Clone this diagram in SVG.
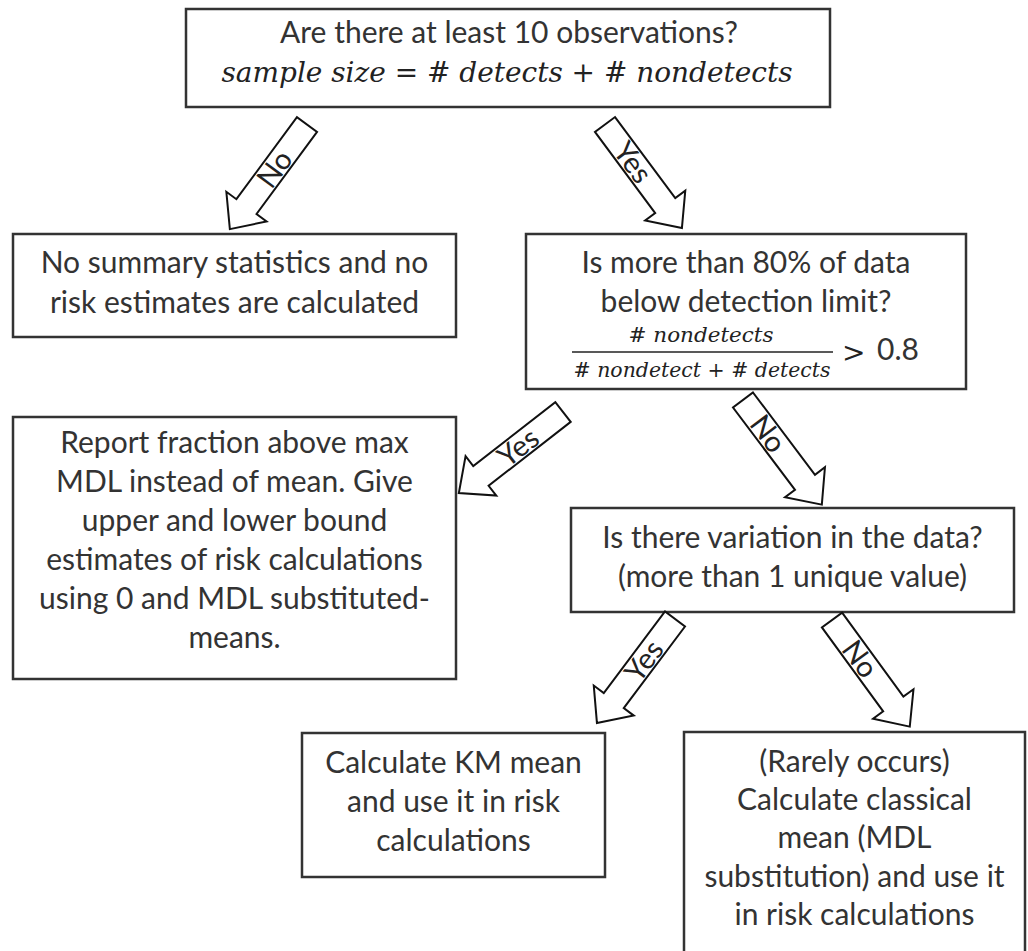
<svg xmlns="http://www.w3.org/2000/svg" width="1028" height="951" viewBox="0 0 1028 951">
<style>
.box{fill:#fff;stroke:#333;stroke-width:2.5}
.t{font-family:Lato,"Liberation Sans",sans-serif;font-size:30px;fill:#333;text-anchor:middle}
.m{font-family:"DejaVu Serif","Liberation Serif",serif;font-style:italic;fill:#222}
.u{font-style:normal}
.arr{fill:#fff;stroke:#111;stroke-width:2;stroke-linejoin:miter}
.lab{font-family:Lato,"Liberation Sans",sans-serif;font-size:29px;fill:#222;text-anchor:middle}
</style>
<rect width="1028" height="951" fill="#fff"/>
<g id="q1">
<rect class="box" x="186" y="9" width="644" height="98"/>
<text class="t" x="509" y="43">Are there at least 10 observations?</text>
<text class="m" x="507" y="82" font-size="28" text-anchor="middle" textLength="571" lengthAdjust="spacingAndGlyphs">sample size <tspan class="u">=</tspan> <tspan class="u">#</tspan> detects <tspan class="u">+</tspan> <tspan class="u">#</tspan> nondetects</text>
</g>
<g id="none">
<rect class="box" x="13" y="234" width="443" height="103"/>
<text class="t" x="234.5" y="273">No summary statistics and no</text>
<text class="t" x="234.5" y="313">risk estimates are calculated</text>
</g>
<g id="q2">
<rect class="box" x="526" y="234" width="440" height="155"/>
<text class="t" x="746" y="273">Is more than 80% of data</text>
<text class="t" x="746" y="312">below detection limit?</text>
<text class="m" x="701" y="342" font-size="20" text-anchor="middle" textLength="145" lengthAdjust="spacingAndGlyphs"><tspan class="u">#</tspan> nondetects</text>
<line x1="572" y1="352" x2="833" y2="352" stroke="#222" stroke-width="1.6"/>
<text class="m" x="702" y="377" font-size="20" text-anchor="middle" textLength="257" lengthAdjust="spacingAndGlyphs"><tspan class="u">#</tspan> nondetect <tspan class="u">+</tspan> <tspan class="u">#</tspan> detects</text>
<text class="m u" x="842" y="362" font-size="28">&gt;</text>
<text class="t" x="877" y="360" style="text-anchor:start">0.8</text>
</g>
<g id="report">
<rect class="box" x="13" y="417" width="443" height="262"/>
<text class="t" x="234.5" y="453">Report fraction above max</text>
<text class="t" x="234.5" y="492">MDL instead of mean. Give</text>
<text class="t" x="234.5" y="531">upper and lower bound</text>
<text class="t" x="234.5" y="570">estimates of risk calculations</text>
<text class="t" x="234.5" y="609">using 0 and MDL substituted-</text>
<text class="t" x="234.5" y="648">means.</text>
</g>
<g id="q3">
<rect class="box" x="571" y="508" width="443" height="104"/>
<text class="t" x="792.5" y="548">Is there variation in the data?</text>
<text class="t" x="792.5" y="587">(more than 1 unique value)</text>
</g>
<g id="km">
<rect class="box" x="302" y="733" width="303" height="144"/>
<text class="t" x="453.5" y="773">Calculate KM mean</text>
<text class="t" x="453.5" y="812">and use it in risk</text>
<text class="t" x="453.5" y="851">calculations</text>
</g>
<g id="classical">
<rect class="box" x="684" y="732" width="341" height="232"/>
<text class="t" x="854.5" y="772">(Rarely occurs)</text>
<text class="t" x="854.5" y="810">Calculate classical</text>
<text class="t" x="854.5" y="848">mean (MDL</text>
<text class="t" x="854.5" y="887">substitution) and use it</text>
<text class="t" x="854.5" y="925">in risk calculations</text>
</g>
<g id="connectors">
<g transform="translate(307,124.5) rotate(126.4)">
<polygon class="arr" points="0,-12.5 102,-12.5 102,-25 130,0 102,25 102,12.5 0,12.5"/>
<text class="lab" transform="translate(55,0) rotate(180)" dy="0.36em">No</text>
</g>
<g transform="translate(605,124.5) rotate(53.4)">
<polygon class="arr" points="0,-12.5 101,-12.5 101,-25 129,0 101,25 101,12.5 0,12.5"/>
<text class="lab" transform="translate(47,0)" dy="0.36em">Yes</text>
</g>
<g transform="translate(563,412) rotate(142.1)">
<polygon class="arr" points="0,-12.5 104,-12.5 104,-25 132,0 104,25 104,12.5 0,12.5"/>
<text class="lab" transform="translate(57,0) rotate(180)" dy="0.36em">Yes</text>
</g>
<g transform="translate(743,400) rotate(53)">
<polygon class="arr" points="0,-12.5 103,-12.5 103,-25 131,0 103,25 103,12.5 0,12.5"/>
<text class="lab" transform="translate(42,0)" dy="0.36em">No</text>
</g>
<g transform="translate(675,619) rotate(126.9)">
<polygon class="arr" points="0,-12.5 102,-12.5 102,-25 130,0 102,25 102,12.5 0,12.5"/>
<text class="lab" transform="translate(52,0) rotate(180)" dy="0.36em">Yes</text>
</g>
<g transform="translate(832,620) rotate(53.9)">
<polygon class="arr" points="0,-12.5 104,-12.5 104,-25 132,0 104,25 104,12.5 0,12.5"/>
<text class="lab" transform="translate(48,0)" dy="0.36em">No</text>
</g>
</g>
</svg>
